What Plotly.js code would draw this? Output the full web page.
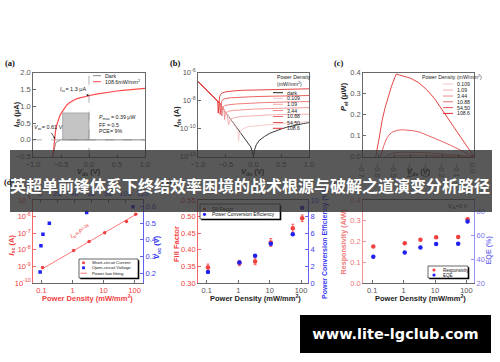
<!DOCTYPE html>
<html><head><meta charset="utf-8">
<script src="https://cdn.plot.ly/plotly-3.0.1.min.js"></script>
<style>html,body{margin:0;padding:0;background:#fff}#chart{width:500px;height:362px}</style>
</head><body><div id="chart"></div>
<script>
// ================= DATA =================
const densities = [0.109, 1.09, 3.44, 10.88, 54.50, 108.6];
const densityLabels = ['0.109', '1.09', '3.44', '10.88', '54.50', '108.6'];

// (a) I-V at 108.6 mW/mm2 and dark (μA)
const aDarkV = [-0.645, -0.63, -0.615, -0.6, -0.58, -0.55, -0.52, -0.5, -0.4, -0.2, 0, 0.5, 1.0];
const aDarkI = [-0.5, -0.33, -0.2, -0.12, -0.06, -0.025, -0.01, 0, 0, 0, 0, 0, 0];
const aLightV = [-0.645, -0.635, -0.625, -0.615, -0.6, -0.58, -0.56, -0.54, -0.52, -0.5, -0.45, -0.4, -0.35, -0.3, -0.25, -0.2, -0.1, 0, 0.1, 0.2, 0.3, 0.4, 0.5, 0.6, 0.7, 0.8, 0.9, 1.0];
const aLightI = [-0.5, -0.3, -0.12, 0.02, 0.23, 0.42, 0.55, 0.64, 0.72, 0.78, 0.92, 1.03, 1.1, 1.16, 1.2, 1.23, 1.28, 1.31, 1.35, 1.38, 1.41, 1.43, 1.45, 1.47, 1.48, 1.5, 1.51, 1.53];

// (b) |I| (A), log scale
const bDarkV = [-1.0, -0.9, -0.8, -0.7, -0.6, -0.5, -0.4, -0.3, -0.2, -0.1, -0.05, -0.02, 0, 0.02, 0.05, 0.1, 0.2, 0.3, 0.4, 0.5, 0.6, 0.7, 0.8, 0.9, 1.0];
const bDarkI = [2.3e-7, 9.3e-8, 3.8e-8, 1.55e-8, 6.0e-9, 1.4e-9, 4.0e-10, 1.0e-10, 3.2e-11, 1.0e-11, 5.0e-12, 2.2e-12, 1.1e-12, 3.2e-12, 7.1e-12, 1.4e-11, 2.8e-11, 4.8e-11, 7.1e-11, 9.5e-11, 1.26e-10, 1.58e-10, 2.0e-10, 2.3e-10, 2.7e-10];
const b01V = [-1.0, -0.8, -0.6, -0.5, -0.4, -0.3, -0.28, -0.27, -0.26, -0.23, -0.2, -0.1, 0.2, 0.6, 1.0];
const b01I = [2.3e-7, 3.8e-8, 6.0e-9, 1.41e-9, 4.0e-10, 1.0e-10, 7.6e-11, 1.26e-11, 3.2e-11, 7.1e-11, 9.5e-11, 1.38e-10, 1.86e-10, 2.5e-10, 3.16e-10];
const b1V = [-1.0, -0.8, -0.6, -0.5, -0.47, -0.45, -0.43, -0.4, -0.35, -0.2, 0, 0.3, 0.6, 1.0];
const b1I = [2.3e-7, 3.8e-8, 6.0e-9, 1.41e-9, 8.3e-10, 1.8e-10, 3.5e-10, 5.0e-10, 6.0e-10, 7.4e-10, 8.5e-10, 9.5e-10, 1.02e-9, 1.07e-9];
const b3V = [-1.0, -0.8, -0.6, -0.55, -0.53, -0.52, -0.51, -0.49, -0.45, -0.35, -0.2, 0, 0.3, 0.6, 1.0];
const b3I = [2.3e-7, 3.8e-8, 6.0e-9, 2.8e-9, 1.9e-9, 4.5e-10, 1.0e-9, 1.41e-9, 1.74e-9, 2.0e-9, 2.24e-9, 2.45e-9, 2.7e-9, 2.95e-9, 3.16e-9];
const b10V = [-1.0, -0.8, -0.6, -0.58, -0.57, -0.56, -0.545, -0.52, -0.45, -0.3, -0.1, 0.2, 0.6, 1.0];
const b10I = [2.3e-7, 3.8e-8, 6.0e-9, 4.2e-9, 7.9e-10, 2.0e-9, 3.5e-9, 4.4e-9, 5.0e-9, 5.75e-9, 6.5e-9, 7.2e-9, 7.9e-9, 8.5e-9];
const b54V = [-1.0, -0.8, -0.63, -0.61, -0.6, -0.59, -0.575, -0.55, -0.5, -0.4, -0.2, 0, 0.3, 0.6, 1.0];
const b54I = [2.3e-7, 3.8e-8, 8.3e-9, 6.3e-9, 1.0e-9, 3.5e-9, 8.9e-9, 1.2e-8, 1.41e-8, 1.58e-8, 1.78e-8, 1.9e-8, 2.04e-8, 2.19e-8, 2.29e-8];
const b108V = [-1.0, -0.8, -0.66, -0.645, -0.635, -0.625, -0.61, -0.59, -0.57, -0.5, -0.4, -0.3, -0.2, 0, 0.2, 0.5, 0.8, 1.0];
const b108I = [2.3e-7, 3.8e-8, 1.07e-8, 9.0e-9, 1.26e-9, 7.9e-9, 2.0e-8, 2.8e-8, 3.4e-8, 4.2e-8, 4.8e-8, 5.1e-8, 5.4e-8, 5.75e-8, 6.0e-8, 6.3e-8, 6.6e-8, 6.9e-8];

// (c) electrical power (μW)
const c01V = [-0.29, -0.27, -0.2, -0.1, 0];
const c01P = [-0.002, 0, 0.0002, 0.0002, 0];
const c1V = [-0.47, -0.45, -0.4, -0.35, -0.3, -0.2, -0.1, 0];
const c1P = [-0.005, 0, 0.0018, 0.0022, 0.0022, 0.0017, 0.0009, 0];
const c3V = [-0.54, -0.52, -0.48, -0.44, -0.4, -0.3, -0.2, -0.1, 0];
const c3P = [-0.01, 0, 0.005, 0.007, 0.0075, 0.007, 0.005, 0.0025, 0];
const c10V = [-0.58, -0.56, -0.53, -0.5, -0.45, -0.4, -0.35, -0.3, -0.25, -0.2, -0.15, -0.1, -0.05, 0];
const c10P = [-0.02, 0, 0.012, 0.019, 0.022, 0.022, 0.021, 0.019, 0.016, 0.013, 0.01, 0.007, 0.003, 0];
const c54V = [-0.60, -0.59, -0.57, -0.55, -0.53, -0.51, -0.48, -0.45, -0.42, -0.38, -0.34, -0.3, -0.25, -0.2, -0.15, -0.1, -0.05, 0];
const c54P = [-0.03, 0, 0.05, 0.088, 0.108, 0.119, 0.126, 0.128, 0.127, 0.123, 0.116, 0.104, 0.088, 0.072, 0.055, 0.037, 0.018, 0];
const c108V = [-0.63, -0.62, -0.6, -0.58, -0.56, -0.54, -0.52, -0.5, -0.49, -0.47, -0.44, -0.4, -0.35, -0.3, -0.25, -0.2, -0.15, -0.1, -0.05, 0];
const c108P = [-0.03, 0, 0.08, 0.17, 0.235, 0.29, 0.335, 0.375, 0.393, 0.388, 0.382, 0.373, 0.352, 0.32, 0.277, 0.222, 0.166, 0.11, 0.055, 0];

// (d) short-circuit current (A) and open-circuit voltage (V)
const iscA = [8.7e-10, 9.1e-9, 3.2e-8, 1.05e-7, 5.0e-7, 1.38e-6];
const vocV = [0.206, 0.364, 0.434, 0.50, 0.564, 0.60];
const fitP = [0.105, 125];
const fitI = [7.0e-10, 1.55e-6];

// (e) fill factor and PCE (%)
const fillFactor = [0.347, 0.36, 0.365, 0.422, 0.465, 0.495];
const fillFactorErr = [0.01, 0.008, 0.01, 0.012, 0.012, 0.01];
const pce = [1.32, 2.48, 3.28, 4.72, 5.88, 9.08];

// (f) responsivity (A/W) and EQE (%)
const responsivity = [0.176, 0.192, 0.208, 0.221, 0.222, 0.307];
const eqe = [42.1, 45.8, 50.0, 52.8, 53.1, 71.8];

// ================= STYLE / LAYOUT =================
const F = '"Liberation Sans", Arial, sans-serif';
const FS = '"Liberation Serif", "Times New Roman", serif';
const INK = '#444', TXT = '#555';
const RED = '#f04040', BLUE = '#3a3af0', LRED = '#f07878', LBLUE = '#7878f0';
const shade = ['#f7c4c4', '#f3a8a8', '#ef8c8c', '#ea6f6f', '#e65252', '#e03030'];
const P = x => x / 500, Q = y => 1 - y / 362;

function base(o) {
  return Object.assign({
    showline: true, linecolor: INK, linewidth: 0.8, mirror: true,
    ticks: 'inside', ticklen: 3, tickwidth: 0.8, tickcolor: INK,
    showgrid: false, zeroline: false, fixedrange: true,
    tickfont: {family: F, size: 7.5, color: TXT}
  }, o);
}
const hx = (a, b, range, o) => base(Object.assign({domain: [P(a), P(b)], range}, o));
const vy = (t, b, range, o) => base(Object.assign({domain: [Q(b), Q(t)], range}, o));
const tf = c => ({family: F, size: 7.5, color: c});
const sup = n => '10<sup>' + n + '</sup>';

const layout = {
  width: 500, height: 362, margin: {l: 0, r: 0, t: 0, b: 0},
  paper_bgcolor: '#fff', plot_bgcolor: '#fff', showlegend: false,
  xaxis: hx(33, 145, [-1, 1], {anchor: 'y', tickvals: [-1, -0.5, 0, 0.5, 1], tickformat: '.1f'}),
  yaxis: vy(72.5, 156.7, [-0.5, 2], {anchor: 'x', tickvals: [-0.5, 0, 0.5, 1, 1.5, 2], tickformat: '.1f'}),
  xaxis2: hx(198, 309, [-1, 1], {anchor: 'y2', tickvals: [-1, -0.5, 0, 0.5, 1], tickformat: '.1f'}),
  yaxis2: vy(72.5, 156.7, [-12, -6], {anchor: 'x2', type: 'log', tickvals: [1e-12, 1e-10, 1e-8, 1e-6], ticktext: [sup(-12), sup(-10), sup(-8), sup(-6)]}),
  xaxis3: hx(363, 474, [-0.7, 0], {anchor: 'y3', dtick: 0.1, tick0: 0, tickformat: '.1f'}),
  yaxis3: vy(72.5, 156.7, [0, 0.4], {anchor: 'x3', dtick: 0.1, tickformat: '.1f'}),

  xaxis4: hx(33, 143.3, [-1.27, 2.28], {anchor: 'y4', type: 'log', mirror: false, tickvals: [0.1, 1, 10, 100], ticktext: ['0.1', '1', '10', '100'], tickfont: tf(RED)}),
  xaxis5: hx(33, 143.3, [-8.2, 120.7], {overlaying: 'x4', side: 'top', anchor: 'y4', mirror: false, dtick: 20, tick0: 0, tickfont: tf(BLUE), linecolor: INK}),
  yaxis4: vy(200, 283, [-10, -5], {anchor: 'x4', type: 'log', mirror: false, linecolor: RED, tickcolor: RED, tickvals: [1e-10, 1e-9, 1e-8, 1e-7, 1e-6, 1e-5], ticktext: [sup(-10), sup(-9), sup(-8), sup(-7), sup(-6), sup(-5)], tickfont: tf(RED)}),
  yaxis5: vy(200, 283, [0.14, 0.64], {overlaying: 'y4', side: 'right', anchor: 'x4', mirror: false, linecolor: BLUE, tickcolor: BLUE, tickvals: [0.2, 0.3, 0.4, 0.5, 0.6], tickformat: '.1f', tickfont: tf(BLUE)}),

  xaxis6: hx(198, 308.3, [-1.28, 2.23], {anchor: 'y6', type: 'log', tickvals: [0.1, 1, 10, 100], ticktext: ['0.1', '1', '10', '100']}),
  yaxis6: vy(200, 283, [0.30, 0.55], {anchor: 'x6', mirror: false, linecolor: RED, tickcolor: RED, dtick: 0.05, tick0: 0.3, tickformat: '.2f', tickfont: tf(RED)}),
  yaxis7: vy(200, 283, [0, 10], {overlaying: 'y6', side: 'right', anchor: 'x6', mirror: false, linecolor: BLUE, tickcolor: BLUE, dtick: 2, tick0: 0, tickfont: tf(BLUE)}),

  xaxis7: hx(363, 474.3, [-1.29, 2.25], {anchor: 'y8', type: 'log', tickvals: [0.1, 1, 10, 100], ticktext: ['0.1', '1', '10', '100']}),
  yaxis8: vy(200, 283, [0, 0.4], {anchor: 'x7', mirror: false, linecolor: LRED, tickcolor: LRED, dtick: 0.1, tick0: 0, tickformat: '.1f', tickfont: tf(LRED)}),
  yaxis9: vy(200, 283, [20, 90], {overlaying: 'y8', side: 'right', anchor: 'x7', mirror: false, linecolor: LBLUE, tickcolor: LBLUE, tickvals: [20, 40, 60, 80], tickfont: tf(LBLUE)}),
  shapes: [], annotations: []
};

// ================= TRACES =================
const line = (x, y, xa, ya, color, w) => ({type: 'scatter', mode: 'lines', x, y, xaxis: xa, yaxis: ya, line: {color, width: w || 1}, hoverinfo: 'skip'});
const pts = (x, y, xa, ya, color, size, sym) => ({type: 'scatter', mode: 'markers', x, y, xaxis: xa, yaxis: ya, marker: {color, size: size, symbol: sym || 'circle'}, hoverinfo: 'skip'});

const bSeries = [[b01V, b01I], [b1V, b1I], [b3V, b3I], [b10V, b10I], [b54V, b54I], [b108V, b108I]];
const cSeries = [[c01V, c01P], [c1V, c1P], [c3V, c3P], [c10V, c10P], [c54V, c54P], [c108V, c108P]];

const data = [
  line(aDarkV, aDarkI, 'x', 'y', '#888', 1),
  line(aLightV, aLightI, 'x', 'y', '#ff4a4a', 1.2),
  line(bDarkV, bDarkI, 'x2', 'y2', '#222', 0.9)
];
bSeries.forEach((s, i) => data.push(line(s[0], s[1], 'x2', 'y2', shade[i], 0.9)));
cSeries.forEach((s, i) => data.push(line(s[0], s[1], 'x3', 'y3', shade[i], 0.9)));
data.push(line(fitP, fitI, 'x4', 'y4', '#ff6a6a', 0.9));
data.push(pts(densities, iscA, 'x4', 'y4', RED, 3.5));
data.push(pts(densities, vocV, 'x5', 'y5', '#2020f0', 3.5, 'square'));
const ffTrace = pts(densities, fillFactor, 'x6', 'y6', RED, 4.5);
ffTrace.error_y = {type: 'data', array: fillFactorErr, visible: true, color: RED, thickness: 0.8, width: 1.5};
data.push(ffTrace);
data.push(pts(densities, pce, 'x6', 'y7', '#2020f0', 4.5));
data.push(pts(densities, responsivity, 'x7', 'y8', RED, 4.5));
data.push(pts(densities, eqe, 'x7', 'y9', '#2020f0', 4.5));

// ================= SHAPES / ANNOTATIONS =================
const S = layout.shapes, A = layout.annotations;
S.push({type: 'rect', xref: 'x', yref: 'y', x0: -0.47, x1: 0, y0: 0, y1: 0.8, fillcolor: '#c4c4c4', line: {color: '#888', width: 0.6}, layer: 'below'});
S.push({type: 'line', xref: 'x', yref: 'y', x0: 0, x1: 0, y0: -0.5, y1: 2, line: {color: '#999', width: 0.8, dash: 'dash'}, layer: 'below'});
S.push({type: 'line', xref: 'x', yref: 'y', x0: -1, x1: 1, y0: 0, y1: 0, line: {color: '#999', width: 0.8, dash: 'dash'}, layer: 'below'});

function hl(x0, x1, y, color, w) { S.push({type: 'line', xref: 'paper', yref: 'paper', x0: P(x0), x1: P(x1), y0: Q(y), y1: Q(y), line: {color, width: w || 1}}); }
function dot(cx, cy, r, color, sq) { S.push({type: sq ? 'rect' : 'circle', xref: 'paper', yref: 'paper', x0: P(cx - r), x1: P(cx + r), y0: Q(cy + r), y1: Q(cy - r), fillcolor: color, line: {width: 0}}); }
function box(x0, y0, x1, y1) {
  S.push({type: 'rect', xref: 'paper', yref: 'paper', x0: P(x0 + 1.3), x1: P(x1 + 1.3), y0: Q(y1 + 1.3), y1: Q(y0 + 1.3), fillcolor: '#000', line: {width: 0}});
  S.push({type: 'rect', xref: 'paper', yref: 'paper', x0: P(x0), x1: P(x1), y0: Q(y1), y1: Q(y0), fillcolor: '#fff', line: {color: '#000', width: 0.6}});
}
function T(x, y, text, size, color, o) {
  A.push(Object.assign({xref: 'paper', yref: 'paper', x: P(x), y: Q(y), text, showarrow: false, xanchor: 'center', yanchor: 'middle', font: {family: F, size, color: color || '#222'}}, o));
}
const L = {xanchor: 'left'}, V90 = {textangle: -90};

// panel labels
[['(a)', 10, 63], ['(b)', 175, 63], ['(c)', 339, 63], ['(d)', 9, 182], ['(e)', 172, 182], ['(f)', 337, 182]]
  .forEach(p => T(p[1], p[2], '<b>' + p[0] + '</b>', 8.5, '#111', {font: {family: FS, size: 8.5, color: '#111'}}));

// axis titles, top row
T(16.5, 114.6, '<b><i>I</i><sub>ds</sub> (μA)</b>', 7.5, '#222', V90);
T(177, 117, '<b><i>I</i><sub>ds</sub> (A)</b>', 7.5, '#222', V90);
T(344, 97, '<b><i>P</i><sub>el</sub> (μW)</b>', 7.5, '#222', V90);
[89, 253, 419].forEach(x => T(x, 172, '<b><i>V</i><sub>ds</sub> (V)</b>', 7.5, '#222'));
// axis titles, bottom row
const pdTitle = '<b>Power Density (mW/mm<sup>2</sup>)</b>';
T(87, 298, pdTitle, 7.5, RED);
T(255, 298, pdTitle, 7.5, '#222');
T(420, 298, pdTitle, 7.5, '#222');
T(11.5, 245, '<b><i>I</i><sub>sc</sub> (A)</b>', 7.5, RED, V90);
T(157, 247, '<b><i>V</i><sub>oc</sub> (V)</b>', 7.5, BLUE, V90);
T(176, 244, '<b>Fill Factor</b>', 7.5, RED, V90);
T(325, 245, '<b>Power Conversion Efficiency (%)</b>', 7, BLUE, V90);
T(343.5, 242, '<b>Responsivity (A/W)</b>', 7.2, LRED, V90);
T(487.5, 250, '<b>EQE (%)</b>', 7.2, LBLUE, V90);

// (a) legend and notes
hl(93, 101, 75.7, '#888', 1); T(103, 75.7, 'Dark', 5.3, '#222', L);
hl(93, 101, 81.7, '#ff4a4a', 1); T(103, 81.7, '108.6mW/mm<sup>2</sup>', 5.3, '#222', L);
A.push({xref: 'x', yref: 'y', x: 0, y: 1.31, ax: -16, ay: -6, text: '<i>I</i><sub>sc</sub>= 1.3 μA', showarrow: true, arrowhead: 2, arrowsize: 0.6, arrowwidth: 0.7, arrowcolor: '#222', font: {family: F, size: 5.5, color: '#222'}});
A.push({xref: 'x', yref: 'y', x: -0.605, y: 0.03, ax: -7, ay: -11, text: '<i>V</i><sub>oc</sub>= 0.61 V', showarrow: true, arrowhead: 2, arrowsize: 0.6, arrowwidth: 0.7, arrowcolor: '#222', font: {family: F, size: 5.5, color: '#222'}});
T(97, 117.3, '<i>P</i><sub>max</sub> = 0.39 μW', 5.3, '#222', L);
T(97, 124.8, 'FF = 0.5', 5.3, '#222', L);
T(97, 130.6, 'PCE= 9%', 5.3, '#222', L);

// (b) legend
T(275, 76.7, 'Power Density', 5.2, '#222', L);
T(275, 84, '(mW/mm<sup>2</sup>)', 5.2, '#222', L);
const bLegY = [92.7, 98.3, 104.3, 110.5, 116.5, 122.5, 128.3];
const bLegC = ['#222'].concat(shade);
['dark'].concat(densityLabels).forEach((t, i) => { hl(273, 283, bLegY[i], bLegC[i], 1); T(285, bLegY[i], t, 5.2, '#222', L); });

// (c) legend
T(420, 76.5, 'Power Density (mW/mm<sup>2</sup>)', 5.2, '#222', L);
const cLegY = [84, 90, 96, 101.8, 107.6, 113.4];
densityLabels.forEach((t, i) => { hl(443, 453, cLegY[i], shade[i], 1); T(455, cLegY[i], t, 5.2, '#222', L); });

// (d) legend + fit label
box(79, 259, 138, 278);
dot(83.5, 262.7, 1.5, RED); T(90, 262.7, 'Short-circuit Current', 4.3, '#111', L);
dot(83.5, 267.8, 1.4, '#2020f0', true); T(90, 267.8, 'Open-circuit Voltage', 4.3, '#111', L);
hl(80.5, 87, 273.2, '#ff6a6a', 0.9); T(90, 273.2, 'Power law fitting', 4.3, '#111', L);
T(80, 231, '<i>I</i><sub>sc</sub>∝<i>P</i><sup>1.06</sup>', 5.8, RED, {textangle: -28});

// (e) legend
box(200, 204, 280, 219);
dot(204.5, 209, 1.6, RED); T(210, 209, 'Fill Factor', 4.9, '#111', L);
dot(204.5, 214.3, 1.6, '#2020f0'); T(210, 214.3, 'Power Conversion Efficiency', 4.9, '#111', L);

// (f) legend + condition
box(428, 266, 468, 278);
dot(434, 270, 1.6, RED); T(440.5, 270, 'Responsivity', 4.5, '#111', L);
dot(434, 275, 1.6, '#2020f0'); T(440.5, 275, 'EQE', 4.5, '#111', L);
T(458, 206.7, '<i>V</i><sub>ds</sub>=0 V', 5.5, '#222');

// overlay banner and watermark
A.push({xref: 'paper', yref: 'paper', x: P(251), y: Q(181), xanchor: 'center', yanchor: 'middle', width: 482, height: 62, bgcolor: 'rgba(48,48,48,0.8)', borderpad: 0, borderwidth: 0, showarrow: false, text: ' ', font: {size: 2, color: '#fff'}});
T(250, 185, '<b>英超单前锋体系下终结效率困境的战术根源与破解之道演变分析路径</b>', 16, '#fff', {font: {family: '"Noto Sans CJK SC", sans-serif', size: 16, color: '#fff'}});
A.push({xref: 'paper', yref: 'paper', x: P(395.5), y: Q(334), xanchor: 'center', yanchor: 'middle', width: 191, height: 38, bgcolor: '#000', borderpad: 0, borderwidth: 0, showarrow: false, text: '<b>www.lite-lgclub.com</b>', font: {family: '"DejaVu Sans", sans-serif', size: 14.5, color: '#fff'}});

Plotly.newPlot('chart', data, layout, {staticPlot: true, displayModeBar: false});
</script></body></html>
